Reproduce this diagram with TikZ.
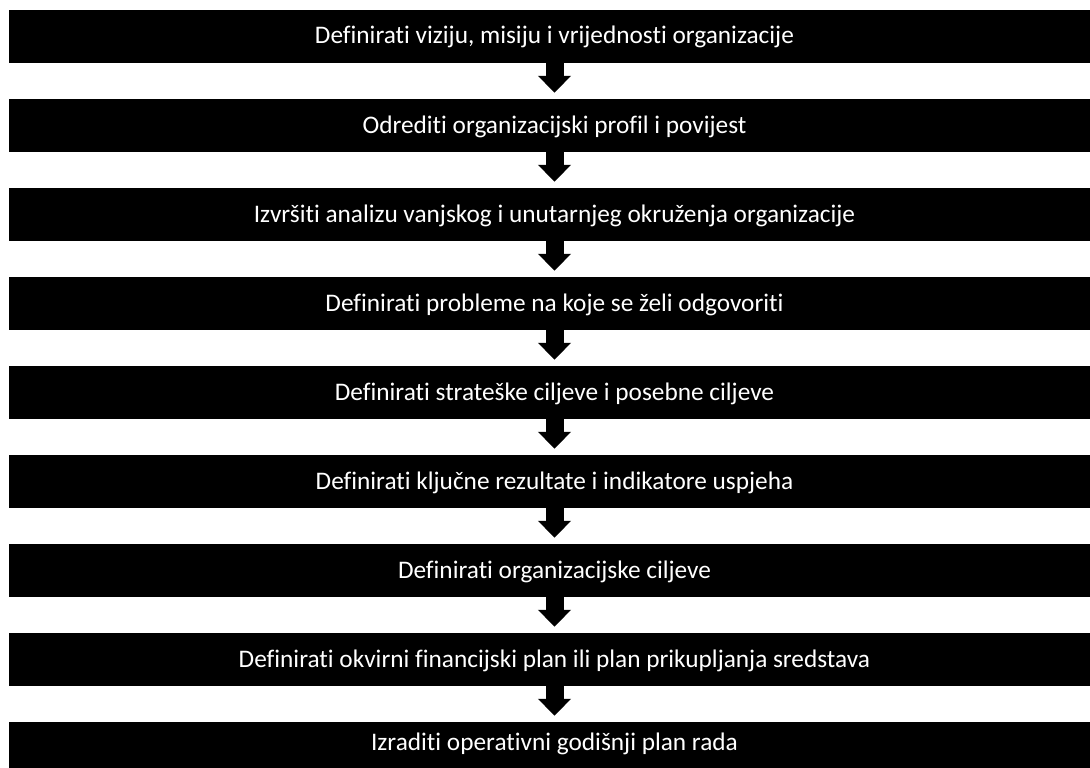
\documentclass[tikz,border=0pt]{standalone}
\usepackage{fontspec}
\setmainfont{Carlito}[Ligatures=NoCommon]
\usetikzlibrary{arrows.meta}
\begin{document}
\begin{tikzpicture}[x=1pt,y=1pt,
  bar/.style={fill=black, text=white, inner sep=0pt, minimum width=1091pt,
    minimum height=53pt, text height=17pt, text depth=2pt,
    font=\fontsize{25.3}{28}\selectfont},
  lastbar/.style={bar, minimum height=46pt, text height=12pt, text depth=2pt},
  flow/.style={draw=black, line width=18pt,
    -{Triangle[width=32pt,length=17pt]}, shorten >=6pt}]
\useasboundingbox (0,0) rectangle (1090,-768);
\clip (0,0) rectangle (1090,-768);
\node[bar] (b1) at (554.5,-36.5) {Definirati viziju, misiju i vrijednosti organizacije};
\node[bar] (b2) at (554.5,-125.5) {Odrediti organizacijski profil i povijest};
\node[bar] (b3) at (554.5,-214.5) {Izvršiti analizu vanjskog i unutarnjeg okruženja organizacije};
\node[bar] (b4) at (554.5,-303.5) {Definirati probleme na koje se želi odgovoriti};
\node[bar] (b5) at (554.5,-392.5) {Definirati strateške ciljeve i posebne ciljeve};
\node[bar] (b6) at (554.5,-481.5) {Definirati ključne rezultate i indikatore uspjeha};
\node[bar] (b7) at (554.5,-570.5) {Definirati organizacijske ciljeve};
\node[bar] (b8) at (554.5,-659.5) {Definirati okvirni financijski plan ili plan prikupljanja sredstava};
\node[lastbar] (b9) at (554.5,-745) {Izraditi operativni godišnji plan rada};
\foreach \a/\b in {b1/b2,b2/b3,b3/b4,b4/b5,b5/b6,b6/b7,b7/b8,b8/b9}
  \draw[flow] (\a.south) -- (\b.north);
\end{tikzpicture}
\end{document}
